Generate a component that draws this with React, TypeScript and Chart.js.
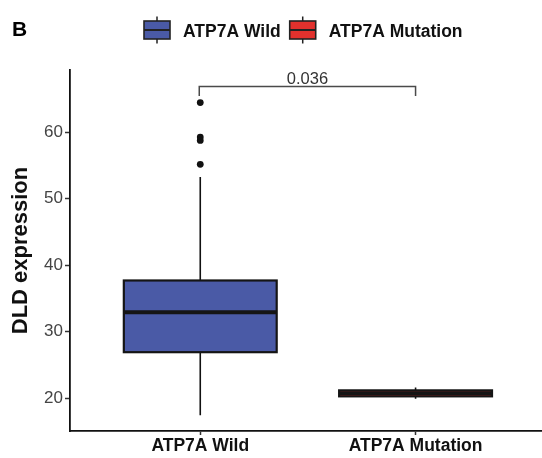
import React, { useEffect, useRef } from "react";
import { Chart, registerables } from "chart.js";

Chart.register(...registerables);

// ---- data ----
const categories = ["ATP7A Wild", "ATP7A Mutation"];
const groupPositions = [1, 2];
const whiskerLow = [17.4, 19.9];
const q1 = [26.9, 20.25];
const median = [32.9, 20.7];
const q3 = [37.7, 21.15];
const whiskerHigh = [53.3, 21.6];
const outlierX = [1, 1, 1, 1];
const outlierY = [64.5, 59.3, 58.8, 55.2];
const yTicks = [20, 30, 40, 50, 60];
const pValueLabel = "0.036";
const bracketY = 66.9;
const bracketTickY = 65.5;
const panelLabel = "B";
const yTitle = "DLD expression";

// ---- styles ----
const boxColors = ["#4a5aa6", "#e2312d"];
const FONT = "'Liberation Sans', Arial, Helvetica, sans-serif";
const BOX_WIDTH = 0.71;
const CANVAS_W = 546;

const boxPlugin = {
  id: "boxDraw",
  beforeDatasetsDraw(chart: any) {
    const ctx = chart.ctx;
    const xs = chart.scales.x;
    const ys = chart.scales.y;
    ctx.save();
    categories.forEach((_, i) => {
      const g = groupPositions[i];
      const cx = xs.getPixelForValue(g);
      const xl = xs.getPixelForValue(g - BOX_WIDTH / 2);
      const xr = xs.getPixelForValue(g + BOX_WIDTH / 2);
      const yq1 = ys.getPixelForValue(q1[i]);
      const yq3 = ys.getPixelForValue(q3[i]);
      const ymed = ys.getPixelForValue(median[i]);
      const ylo = ys.getPixelForValue(whiskerLow[i]);
      const yhi = ys.getPixelForValue(whiskerHigh[i]);
      // whiskers
      ctx.strokeStyle = "#111";
      ctx.lineWidth = 1.6;
      ctx.beginPath();
      ctx.moveTo(cx, yhi);
      ctx.lineTo(cx, yq3);
      ctx.moveTo(cx, yq1);
      ctx.lineTo(cx, ylo);
      ctx.stroke();
      // box
      ctx.fillStyle = boxColors[i];
      ctx.fillRect(xl, yq3, xr - xl, yq1 - yq3);
      ctx.lineWidth = 2.2;
      ctx.strokeStyle = "#151515";
      ctx.strokeRect(xl, yq3, xr - xl, yq1 - yq3);
      // median
      ctx.lineWidth = 4;
      ctx.beginPath();
      ctx.moveTo(xl, ymed);
      ctx.lineTo(xr, ymed);
      ctx.stroke();
    });
    ctx.restore();
  },
  afterDraw(chart: any) {
    const ctx = chart.ctx;
    const xs = chart.scales.x;
    const ys = chart.scales.y;
    ctx.save();
    // bracket
    const x1 = xs.getPixelForValue(groupPositions[0]) - 1;
    const x2 = xs.getPixelForValue(groupPositions[1]);
    const yb = ys.getPixelForValue(bracketY);
    const yt = ys.getPixelForValue(bracketTickY);
    ctx.strokeStyle = "#4a4a4a";
    ctx.lineWidth = 1.5;
    ctx.beginPath();
    ctx.moveTo(x1, yt);
    ctx.lineTo(x1, yb);
    ctx.lineTo(x2, yb);
    ctx.lineTo(x2, yt);
    ctx.stroke();
    ctx.fillStyle = "#333";
    ctx.font = `16.5px ${FONT}`;
    ctx.textAlign = "center";
    ctx.textBaseline = "alphabetic";
    ctx.fillText(pValueLabel, (x1 + x2) / 2, yb - 3);

    // panel label
    ctx.fillStyle = "#000";
    ctx.font = `bold 21px ${FONT}`;
    ctx.textAlign = "left";
    ctx.fillText(panelLabel, 12, 35.5);

    // legend
    let lx = 144;
    const iconW = 26;
    const boxTop = 21;
    const boxBot = 39;
    ctx.font = `bold 17.5px ${FONT}`;
    categories.forEach((name, i) => {
      const cx = lx + iconW / 2;
      ctx.strokeStyle = "#222";
      ctx.lineWidth = 1.5;
      ctx.beginPath();
      ctx.moveTo(cx, 16.5);
      ctx.lineTo(cx, boxTop);
      ctx.moveTo(cx, boxBot);
      ctx.lineTo(cx, 43.5);
      ctx.stroke();
      ctx.fillStyle = boxColors[i];
      ctx.fillRect(lx, boxTop, iconW, boxBot - boxTop);
      ctx.lineWidth = 1.6;
      ctx.strokeRect(lx, boxTop, iconW, boxBot - boxTop);
      ctx.lineWidth = 2;
      ctx.beginPath();
      ctx.moveTo(lx, (boxTop + boxBot) / 2);
      ctx.lineTo(lx + iconW, (boxTop + boxBot) / 2);
      ctx.stroke();
      const tx = lx + iconW + 13;
      ctx.fillStyle = "#111";
      ctx.fillText(name, tx, 37);
      lx = tx + ctx.measureText(name).width + 9;
    });
    ctx.restore();
  },
};

export default function App() {
  const ref = useRef<HTMLCanvasElement | null>(null);
  useEffect(() => {
    if (!ref.current) return;
    Chart.defaults.font.family = FONT;
    const chart = new Chart(ref.current, {
      type: "scatter",
      data: {
        datasets: [
          {
            label: "outliers",
            data: outlierX.map((x, i) => ({ x, y: outlierY[i] })),
            pointRadius: 3.4,
            pointBackgroundColor: "#111",
            pointBorderWidth: 0,
            pointHoverRadius: 3.4,
          },
        ],
      },
      options: {
        animation: false,
        responsive: false,
        devicePixelRatio: 1,
        layout: { padding: { top: 70, left: 0, right: 0, bottom: 0 } },
        plugins: {
          legend: { display: false },
          tooltip: { enabled: false },
        },
        scales: {
          x: {
            type: "linear",
            min: 0.395,
            max: 2.59,
            afterBuildTicks: (s: any) => {
              s.ticks = groupPositions.map((v) => ({ value: v }));
            },
            afterFit: (s: any) => {
              s.height = 27;
            },
            ticks: {
              callback: (v: any) => categories[groupPositions.indexOf(Number(v))] ?? "",
              font: { size: 17.5, weight: "bold" },
              color: "#111",
              padding: 1,
              maxRotation: 0,
              autoSkip: false,
            },
            grid: {
              display: true,
              drawOnChartArea: false,
              drawTicks: true,
              tickLength: 4,
              tickColor: "#333",
              tickWidth: 1.5,
            },
            border: { display: true, color: "#111", width: 1.8 },
          },
          y: {
            type: "linear",
            min: 15.03,
            max: 69.4,
            afterBuildTicks: (s: any) => {
              s.ticks = yTicks.map((v) => ({ value: v }));
            },
            afterFit: (s: any) => {
              s.width = 70;
            },
            ticks: {
              font: { size: 17 },
              color: "#444",
              padding: 2,
            },
            grid: {
              display: true,
              drawOnChartArea: false,
              drawTicks: true,
              tickLength: 5,
              tickColor: "#333",
              tickWidth: 1.5,
            },
            border: { display: true, color: "#111", width: 1.8 },
            title: {
              display: true,
              text: yTitle,
              font: { size: 22, weight: "bold" },
              color: "#111",
              padding: { top: 7.5, bottom: 0 },
            },
          },
        },
      },
      plugins: [boxPlugin],
    } as any);
    return () => chart.destroy();
  }, []);
  return (
    <div
      style={{
        position: "fixed",
        left: 0,
        top: 0,
        width: 542,
        height: 458,
        overflow: "hidden",
        background: "#fff",
      }}
    >
      <canvas ref={ref} width={CANVAS_W} height={458} style={{ display: "block" }} />
    </div>
  );
}
